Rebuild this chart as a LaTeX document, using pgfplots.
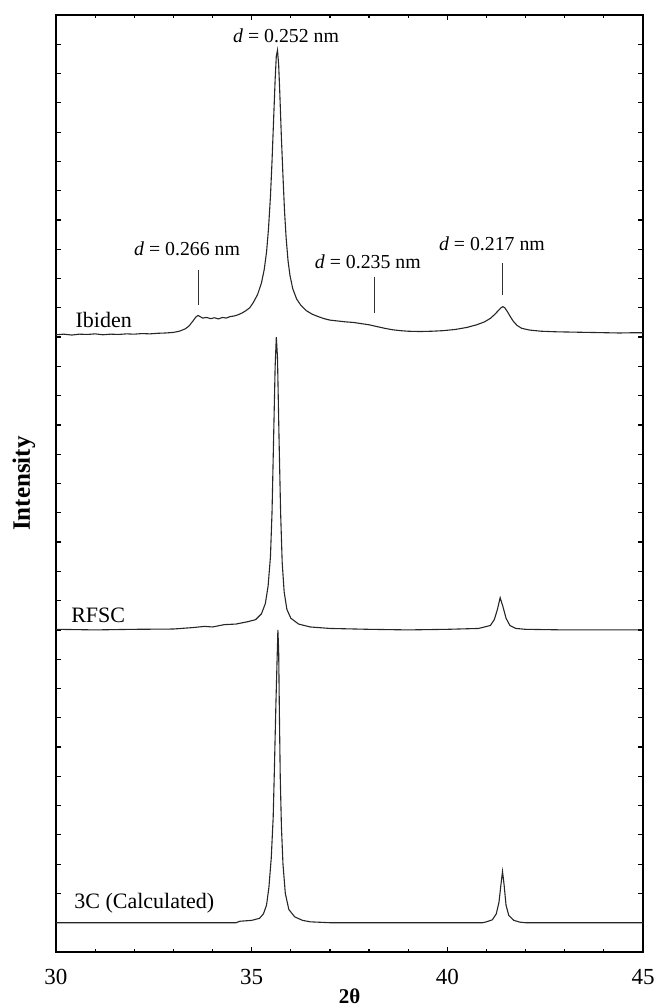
\documentclass[border=0pt]{standalone}
\usepackage{pgfplots}
\pgfplotsset{compat=1.18}
\usepackage{fontspec}
\setmainfont{Liberation Serif}
\begin{document}
\begin{tikzpicture}
\path[use as bounding box] (-28pt,-27.5pt) rectangle (301pt,476pt);
\begin{axis}[
  at={(0,0)}, anchor=south west,
  scale only axis, width=293.5pt, height=468.5pt,
  xmin=30, xmax=45, ymin=0, ymax=32,
  clip=false,
  xtick={30,35,40,45},
  minor x tick num=4,
  ytick={1,2,...,31},
  yticklabels={},
  tick align=inside,
  major tick length=2.5pt,
  minor tick length=1.5pt,
  /pgf/number format/assume math mode=true,
  xticklabel style={font=\fontsize{11.5}{12}\selectfont, yshift=-5pt},
  axis line style={line width=0.8pt},
  tick style={line width=0.6pt, black},
  every axis plot/.append style={line width=0.55pt, black!85},
]
\addplot[no marks] coordinates {
(30.0,21.08) (30.2,21.10) (30.4,21.07) (30.6,21.10) (30.8,21.09) (31.0,21.11) (31.2,21.08) (31.4,21.10) (31.6,21.09) (31.8,21.11)
(32.0,21.10) (32.2,21.12) (32.4,21.11) (32.6,21.13) (32.8,21.14) (33.0,21.16) (33.15,21.2) (33.3,21.28) (33.4,21.38) (33.5,21.55)
(33.57,21.68) (33.63,21.74) (33.68,21.70) (33.75,21.65) (33.85,21.67) (33.95,21.63) (34.05,21.66) (34.15,21.62) (34.25,21.67) (34.35,21.65)
(34.45,21.70) (34.55,21.72) (34.65,21.76) (34.75,21.82) (34.85,21.90) (34.95,22.0) (35.05,22.2) (35.15,22.45) (35.25,22.85) (35.32,23.3)
(35.38,23.9) (35.43,24.7) (35.48,25.8) (35.52,27.0) (35.56,28.4) (35.6,29.8) (35.63,30.6) (35.66,30.8) (35.69,30.3) (35.72,29.3)
(35.76,27.8) (35.8,26.5) (35.84,25.3) (35.88,24.4) (35.93,23.6) (35.98,23.1) (36.05,22.65) (36.15,22.3) (36.25,22.1) (36.4,21.9)
(36.55,21.78) (36.7,21.7) (36.85,21.63) (37.0,21.58) (37.2,21.55) (37.4,21.52) (37.6,21.5) (37.8,21.46) (38.0,21.42) (38.2,21.36)
(38.4,21.3) (38.6,21.25) (38.8,21.22) (39.0,21.2) (39.3,21.19) (39.6,21.2) (39.9,21.22) (40.2,21.26) (40.5,21.33) (40.75,21.42)
(40.95,21.52) (41.1,21.64) (41.2,21.76) (41.3,21.9) (41.37,22.0) (41.42,22.04) (41.47,22.0) (41.53,21.88) (41.6,21.72) (41.68,21.55)
(41.78,21.4) (41.9,21.3) (42.1,21.24) (42.4,21.2) (42.8,21.18) (43.2,21.17) (43.6,21.16) (44.0,21.15) (44.4,21.14) (44.8,21.15) (45.0,21.15)
};
\addplot[no marks] coordinates {
(30.0,11.02) (31.0,11.0) (32.0,11.02) (33.0,11.03) (33.5,11.08) (33.8,11.12) (34.0,11.1) (34.3,11.18) (34.6,11.2) (34.9,11.28)
(35.1,11.35) (35.25,11.55) (35.35,11.9) (35.42,12.5) (35.48,13.5) (35.52,15.0) (35.56,17.5) (35.6,20.0) (35.63,21.0) (35.66,20.3)
(35.7,17.5) (35.74,15.0) (35.78,13.3) (35.83,12.3) (35.9,11.7) (36.0,11.4) (36.2,11.2) (36.5,11.1) (37.0,11.05) (38.0,11.02)
(39.0,11.0) (40.0,11.02) (40.8,11.05) (41.1,11.15) (41.2,11.35) (41.28,11.7) (41.35,12.1) (41.42,11.8) (41.5,11.4) (41.6,11.15)
(41.75,11.05) (42.0,11.02) (43.0,11.0) (44.0,11.0) (45.0,11.0)
};
\addplot[no marks] coordinates {
(30.0,1.0) (34.6,1.0) (34.7,1.05) (35.0,1.08) (35.2,1.15) (35.3,1.3) (35.38,1.6) (35.44,2.2) (35.5,3.2) (35.55,4.6)
(35.58,6.2) (35.62,8.5) (35.65,10.0) (35.67,11.0) (35.69,10.3) (35.71,8.0) (35.73,6.0) (35.76,4.3) (35.8,3.0) (35.86,2.0)
(35.95,1.45) (36.1,1.2) (36.3,1.08) (36.5,1.03) (37.0,1.0) (40.9,1.0) (41.0,1.03) (41.15,1.1) (41.25,1.3) (41.32,1.7)
(41.37,2.3) (41.41,2.75) (41.45,2.3) (41.5,1.6) (41.57,1.25) (41.7,1.08) (41.85,1.02) (42.0,1.0) (45.0,1.0)
};
% peak markers
\draw[line width=0.5pt, black!80] (axis cs:33.63,22.1) -- (axis cs:33.63,23.29);
\draw[line width=0.5pt, black!80] (axis cs:38.15,21.82) -- (axis cs:38.15,23.05);
\draw[line width=0.5pt, black!80] (axis cs:41.40,22.44) -- (axis cs:41.40,23.53);
\begin{scope}[every node/.style={font=\fontsize{9.9}{11}\selectfont, inner sep=0pt}]
\node at (axis cs:35.88,31.3) {\textit{d} = 0.252 nm};
\node at (axis cs:33.35,24.0) {\textit{d} = 0.266 nm};
\node at (axis cs:37.97,23.58) {\textit{d} = 0.235 nm};
\node at (axis cs:41.14,24.2) {\textit{d} = 0.217 nm};
\end{scope}
\begin{scope}[every node/.style={font=\fontsize{11}{12}\selectfont, inner sep=0pt, anchor=west}]
\node at (axis cs:30.49,21.6) {Ibiden};
\node at (axis cs:30.38,11.5) {RFSC};
\node at (axis cs:30.46,1.67) {3C (Calculated)};
\end{scope}
\node[font=\fontsize{10.5}{12}\selectfont\bfseries, inner sep=0pt] at ([yshift=-22pt]rel axis cs:0.5,0) {2θ};
\node[font=\fontsize{12.5}{14}\selectfont\bfseries, rotate=90] at ([xshift=-16pt]rel axis cs:0,0.5) {Intensity};
\end{axis}
\end{tikzpicture}
\end{document}
